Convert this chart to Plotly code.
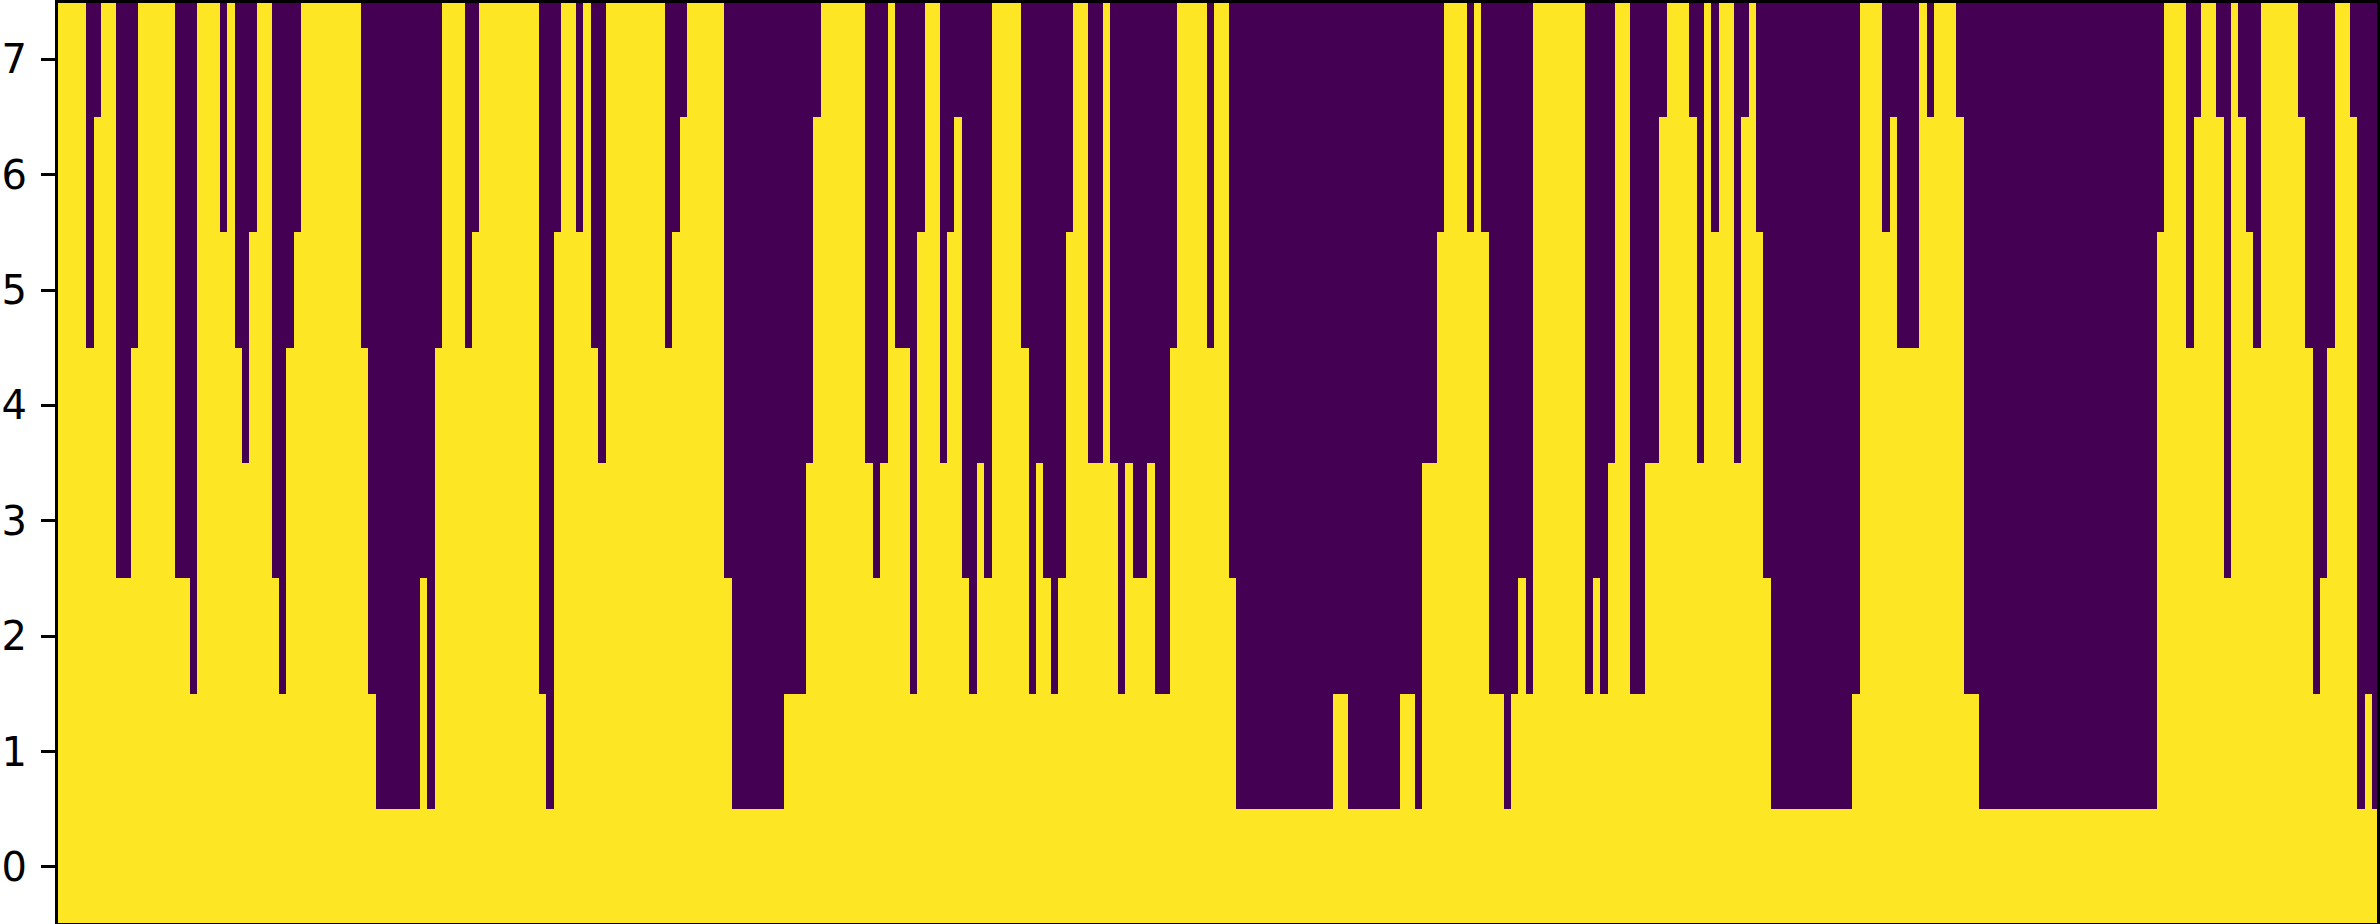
import plotly.graph_objects as go

# yellow cells counted from the bottom row, one entry per column
column_heights = [
    8, 8, 8, 8, 5, 7, 8, 8, 3, 3, 5, 8, 8, 8, 8, 8, 3, 3, 2, 8, 8, 8, 6, 8, 5, 4, 6, 8, 8, 3, 2, 5, 6,
    8, 8, 8, 8, 8, 8, 8, 8, 5, 2,
    1, 1, 1, 1, 1, 1, 3, 1, 5, 8, 8, 8, 5, 6, 8, 8, 8, 8, 8, 8, 8, 8, 2, 1, 6, 8, 8, 6, 8, 5, 4,
    8, 8, 8, 8, 8, 8, 8, 8, 5, 6, 7, 8, 8, 8, 8, 8, 3, 1, 1, 1, 1, 1, 1, 1,
    2, 2, 2, 4, 7, 8, 8, 8, 8, 8, 8, 4, 3, 4, 8, 5, 5, 2, 6, 8, 8, 4, 6, 7, 3, 2, 4, 3,
    8, 8, 8, 8, 5, 2, 4, 3, 2, 3, 6, 8, 8, 4, 4, 8, 4, 2, 4, 3, 3, 4, 2, 2, 5,
    8, 8, 8, 8, 5, 8, 8, 3, 1, 1, 1, 1, 1, 1, 1, 1, 1, 1, 1, 1, 1, 2, 2, 1, 1, 1, 1, 1, 1, 1, 2, 2, 1,
    4, 4, 6, 8, 8, 8, 6, 8, 6, 2, 2, 1, 2, 3, 2, 8, 8, 8, 8, 8, 8, 8, 2,
    3, 2, 4, 8, 8, 2, 2, 4, 4, 7, 8, 8, 8, 7, 4, 8, 6, 8, 8, 4, 7, 8, 6, 3,
    1, 1, 1, 1, 1, 1, 1, 1, 1, 1, 1, 2, 8, 8, 8, 6, 7, 5, 5, 5, 8, 7, 8, 8, 8, 7, 2, 2,
    1, 1, 1, 1, 1, 1, 1, 1, 1, 1, 1, 1, 1, 1, 1, 1, 1, 1, 1, 1, 1, 1, 1, 1,
    6, 8, 8, 8, 5, 7, 8, 8, 7, 3, 8, 7, 6, 5, 8, 8, 8, 8, 8, 7, 5, 2, 3, 5, 8, 8, 7, 1, 2, 1,
]
row_labels = [0, 1, 2, 3, 4, 5, 6, 7]
colors = ["#440154", "#fde725"]

z = [[1 if h > row else 0 for h in column_heights] for row in row_labels]

fig = go.Figure(
    data=[go.Heatmap(
        z=z,
        colorscale=[[0, colors[0]], [1, colors[1]]],
        zmin=0,
        zmax=1,
        showscale=False,
        hoverinfo="skip",
    )]
)

fig.update_layout(
    width=2380,
    height=924,
    margin=dict(l=58, r=0, t=2, b=1, pad=0),
    paper_bgcolor="white",
    plot_bgcolor="white",
    font=dict(family="DejaVu Sans", size=40, color="black"),
    xaxis=dict(
        # spine sits on top of the first column in the reference, so start a bit in
        range=[-0.285, 312.24],
        showticklabels=False,
        ticks="",
        showgrid=False,
        zeroline=False,
        showline=True,
        mirror=True,
        linecolor="black",
        linewidth=3,
    ),
    yaxis=dict(
        range=[-0.486, 7.488],
        tickvals=row_labels,
        ticks="outside",
        ticklen=14,
        tickwidth=3,
        tickcolor="black",
        ticklabelstandoff=6,
        showgrid=False,
        zeroline=False,
        showline=True,
        mirror=True,
        linecolor="black",
        linewidth=3,
    ),
)

fig.write_html(
    "out.html",
    config={"displayModeBar": False},
    post_script="document.body.style.margin='0'",
)
